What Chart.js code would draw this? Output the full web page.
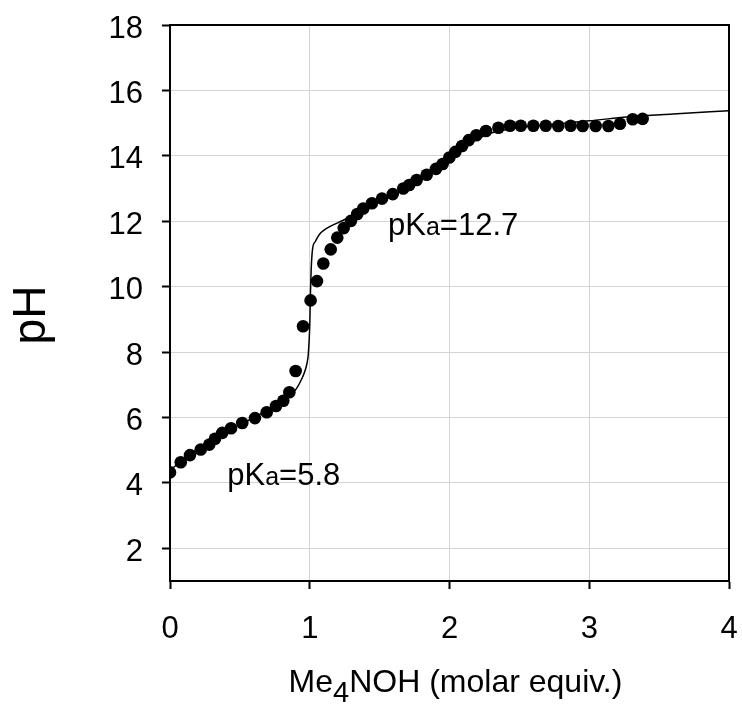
<!DOCTYPE html>
<html>
<head>
<meta charset="utf-8">
<script src="https://cdn.jsdelivr.net/npm/chart.js@4"></script>
<style>
    html, body { margin: 0; padding: 0; background: #fff; }
    #wrap { width: 742px; height: 704px; }
</style>
</head>
<body>
<div id="wrap"><canvas id="chart" width="742" height="704"></canvas></div>
<script>
// measured titration points
const pointX = [0.000, 0.077, 0.143, 0.220, 0.281, 0.322, 0.374, 0.437, 0.517, 0.608,
    0.692, 0.759, 0.811, 0.854, 0.899, 0.952, 1.006, 1.052, 1.097, 1.150,
    1.197, 1.243, 1.295, 1.340, 1.383, 1.445, 1.517, 1.594, 1.669, 1.712,
    1.765, 1.837, 1.903, 1.951, 1.999, 2.042, 2.090, 2.138, 2.192, 2.261,
    2.350, 2.433, 2.510, 2.600, 2.689, 2.778, 2.867, 2.953, 3.046, 3.137,
    3.220, 3.311, 3.382];
const pointY = [4.32, 4.63, 4.85, 5.02, 5.17, 5.35, 5.53, 5.67, 5.83, 5.98,
    6.16, 6.35, 6.51, 6.77, 7.42, 8.79, 9.58, 10.17, 10.71, 11.14,
    11.50, 11.79, 12.01, 12.22, 12.39, 12.55, 12.69, 12.83, 13.00, 13.11,
    13.26, 13.42, 13.60, 13.75, 13.95, 14.12, 14.30, 14.48, 14.63, 14.76,
    14.86, 14.92, 14.92, 14.92, 14.92, 14.91, 14.92, 14.91, 14.91, 14.91,
    14.98, 15.12, 15.13];

// fitted curve
const fitX = [0, 0.1, 0.2, 0.3, 0.4, 0.5, 0.6, 0.7, 0.8, 0.85, 0.9, 0.93, 0.96, 0.98, 0.99,
    1.0, 1.005, 1.01, 1.02, 1.04, 1.07, 1.1, 1.15, 1.24, 1.34, 1.45, 1.6, 1.75, 1.9,
    2.0, 2.1, 2.2, 2.3, 2.4, 2.5, 2.7, 3.0, 3.3, 3.6, 4.0];
const fitY = [4.38, 4.74, 5.05, 5.32, 5.56, 5.78, 6.0, 6.22, 6.47, 6.64, 6.85, 7.07, 7.35, 7.65, 7.95,
    8.8, 9.8, 10.5, 11.15, 11.38, 11.6, 11.72, 11.85, 12.03, 12.26, 12.48, 12.8, 13.15, 13.55,
    13.9, 14.25, 14.52, 14.7, 14.8, 14.87, 14.95, 15.07, 15.2, 15.28, 15.38];

const xTicks = [0, 1, 2, 3, 4];
const yTicks = [2, 4, 6, 8, 10, 12, 14, 16, 18];

// pKa labels, anchored in data units (left, baseline)
const pkaLabels = [
    { x: 0.41, y: 3.93, value: "5.8" },
    { x: 1.56, y: 11.57, value: "12.7" }
];

const FONT = "'Liberation Sans', Arial, sans-serif";

const extras = {
    id: "extras",
    afterDraw(chart) {
        const ctx = chart.ctx;
        const area = chart.chartArea;
        const xs = chart.scales.x;
        const ys = chart.scales.y;
        ctx.save();

        // frame
        ctx.strokeStyle = "#000";
        ctx.lineWidth = 2;
        ctx.strokeRect(area.left, area.top, area.right - area.left, area.bottom - area.top);

        ctx.fillStyle = "#000";
        ctx.textBaseline = "alphabetic";

        // pKa labels
        pkaLabels.forEach(l => {
            let px = xs.getPixelForValue(l.x);
            const py = ys.getPixelForValue(l.y);
            ctx.textAlign = "left";
            ctx.font = "31px " + FONT;
            ctx.fillText("pK", px, py);
            px += ctx.measureText("pK").width;
            ctx.font = "25px " + FONT;
            ctx.fillText("a", px, py);
            px += ctx.measureText("a").width;
            ctx.font = "31px " + FONT;
            ctx.fillText("=" + l.value, px, py);
        });

        // x axis title with subscript
        const parts = [["Me", 32, 0], ["4", 29, 10], ["NOH (molar equiv.)", 32, 0]];
        let total = 0;
        parts.forEach(p => {
            ctx.font = p[1] + "px " + FONT;
            total += ctx.measureText(p[0]).width;
        });
        let tx = (area.left + area.right) / 2 + 6 - total / 2;
        const ty = area.bottom + 111;
        ctx.textAlign = "left";
        parts.forEach(p => {
            ctx.font = p[1] + "px " + FONT;
            ctx.fillText(p[0], tx, ty + p[2]);
            tx += ctx.measureText(p[0]).width;
        });

        // y axis title
        ctx.translate(area.left - 125, (area.top + area.bottom) / 2 + 12);
        ctx.rotate(-Math.PI / 2);
        ctx.textAlign = "center";
        ctx.font = "46px " + FONT;
        ctx.fillText("pH", 0, 0);

        ctx.restore();
    }
};

function noPad(scale) {
    scale.paddingTop = 0;
    scale.paddingBottom = 0;
    scale.paddingLeft = 0;
    scale.paddingRight = 0;
}

new Chart(document.getElementById("chart"), {
    type: "scatter",
    data: {
        datasets: [
            {
                label: "fit",
                data: fitX.map((x, i) => ({ x: x, y: fitY[i] })),
                showLine: true,
                borderColor: "#000",
                borderWidth: 1.5,
                pointRadius: 0,
                cubicInterpolationMode: "monotone",
                order: 2
            },
            {
                label: "data",
                data: pointX.map((x, i) => ({ x: x, y: pointY[i] })),
                backgroundColor: "#000",
                borderWidth: 0,
                pointRadius: 6.3,
                order: 1
            }
        ]
    },
    options: {
        responsive: false,
        animation: false,
        layout: { padding: { top: 25, right: 13, left: 0, bottom: 0 } },
        plugins: { legend: { display: false }, tooltip: { enabled: false } },
        scales: {
            x: {
                type: "linear",
                min: 0,
                max: 4,
                afterBuildTicks: scale => { scale.ticks = xTicks.map(v => ({ value: v })); },
                afterFit: scale => { scale.height = 123; noPad(scale); },
                grid: { color: "#d4d4d4", lineWidth: 1, tickColor: "#000", tickLength: 8, tickWidth: 2 },
                border: { color: "#000", width: 2 },
                ticks: { color: "#000", font: { family: FONT, size: 31 }, padding: 22, maxRotation: 0 }
            },
            y: {
                type: "linear",
                min: 1,
                max: 18,
                afterBuildTicks: scale => { scale.ticks = yTicks.map(v => ({ value: v })); },
                afterFit: scale => { scale.width = 170; noPad(scale); },
                grid: { color: "#d4d4d4", lineWidth: 1, tickColor: "#000", tickLength: 8, tickWidth: 2 },
                border: { color: "#000", width: 2 },
                ticks: { color: "#000", font: { family: FONT, size: 31 }, padding: 19, labelOffset: 4 }
            }
        }
    },
    plugins: [extras]
});
</script>
</body>
</html>
